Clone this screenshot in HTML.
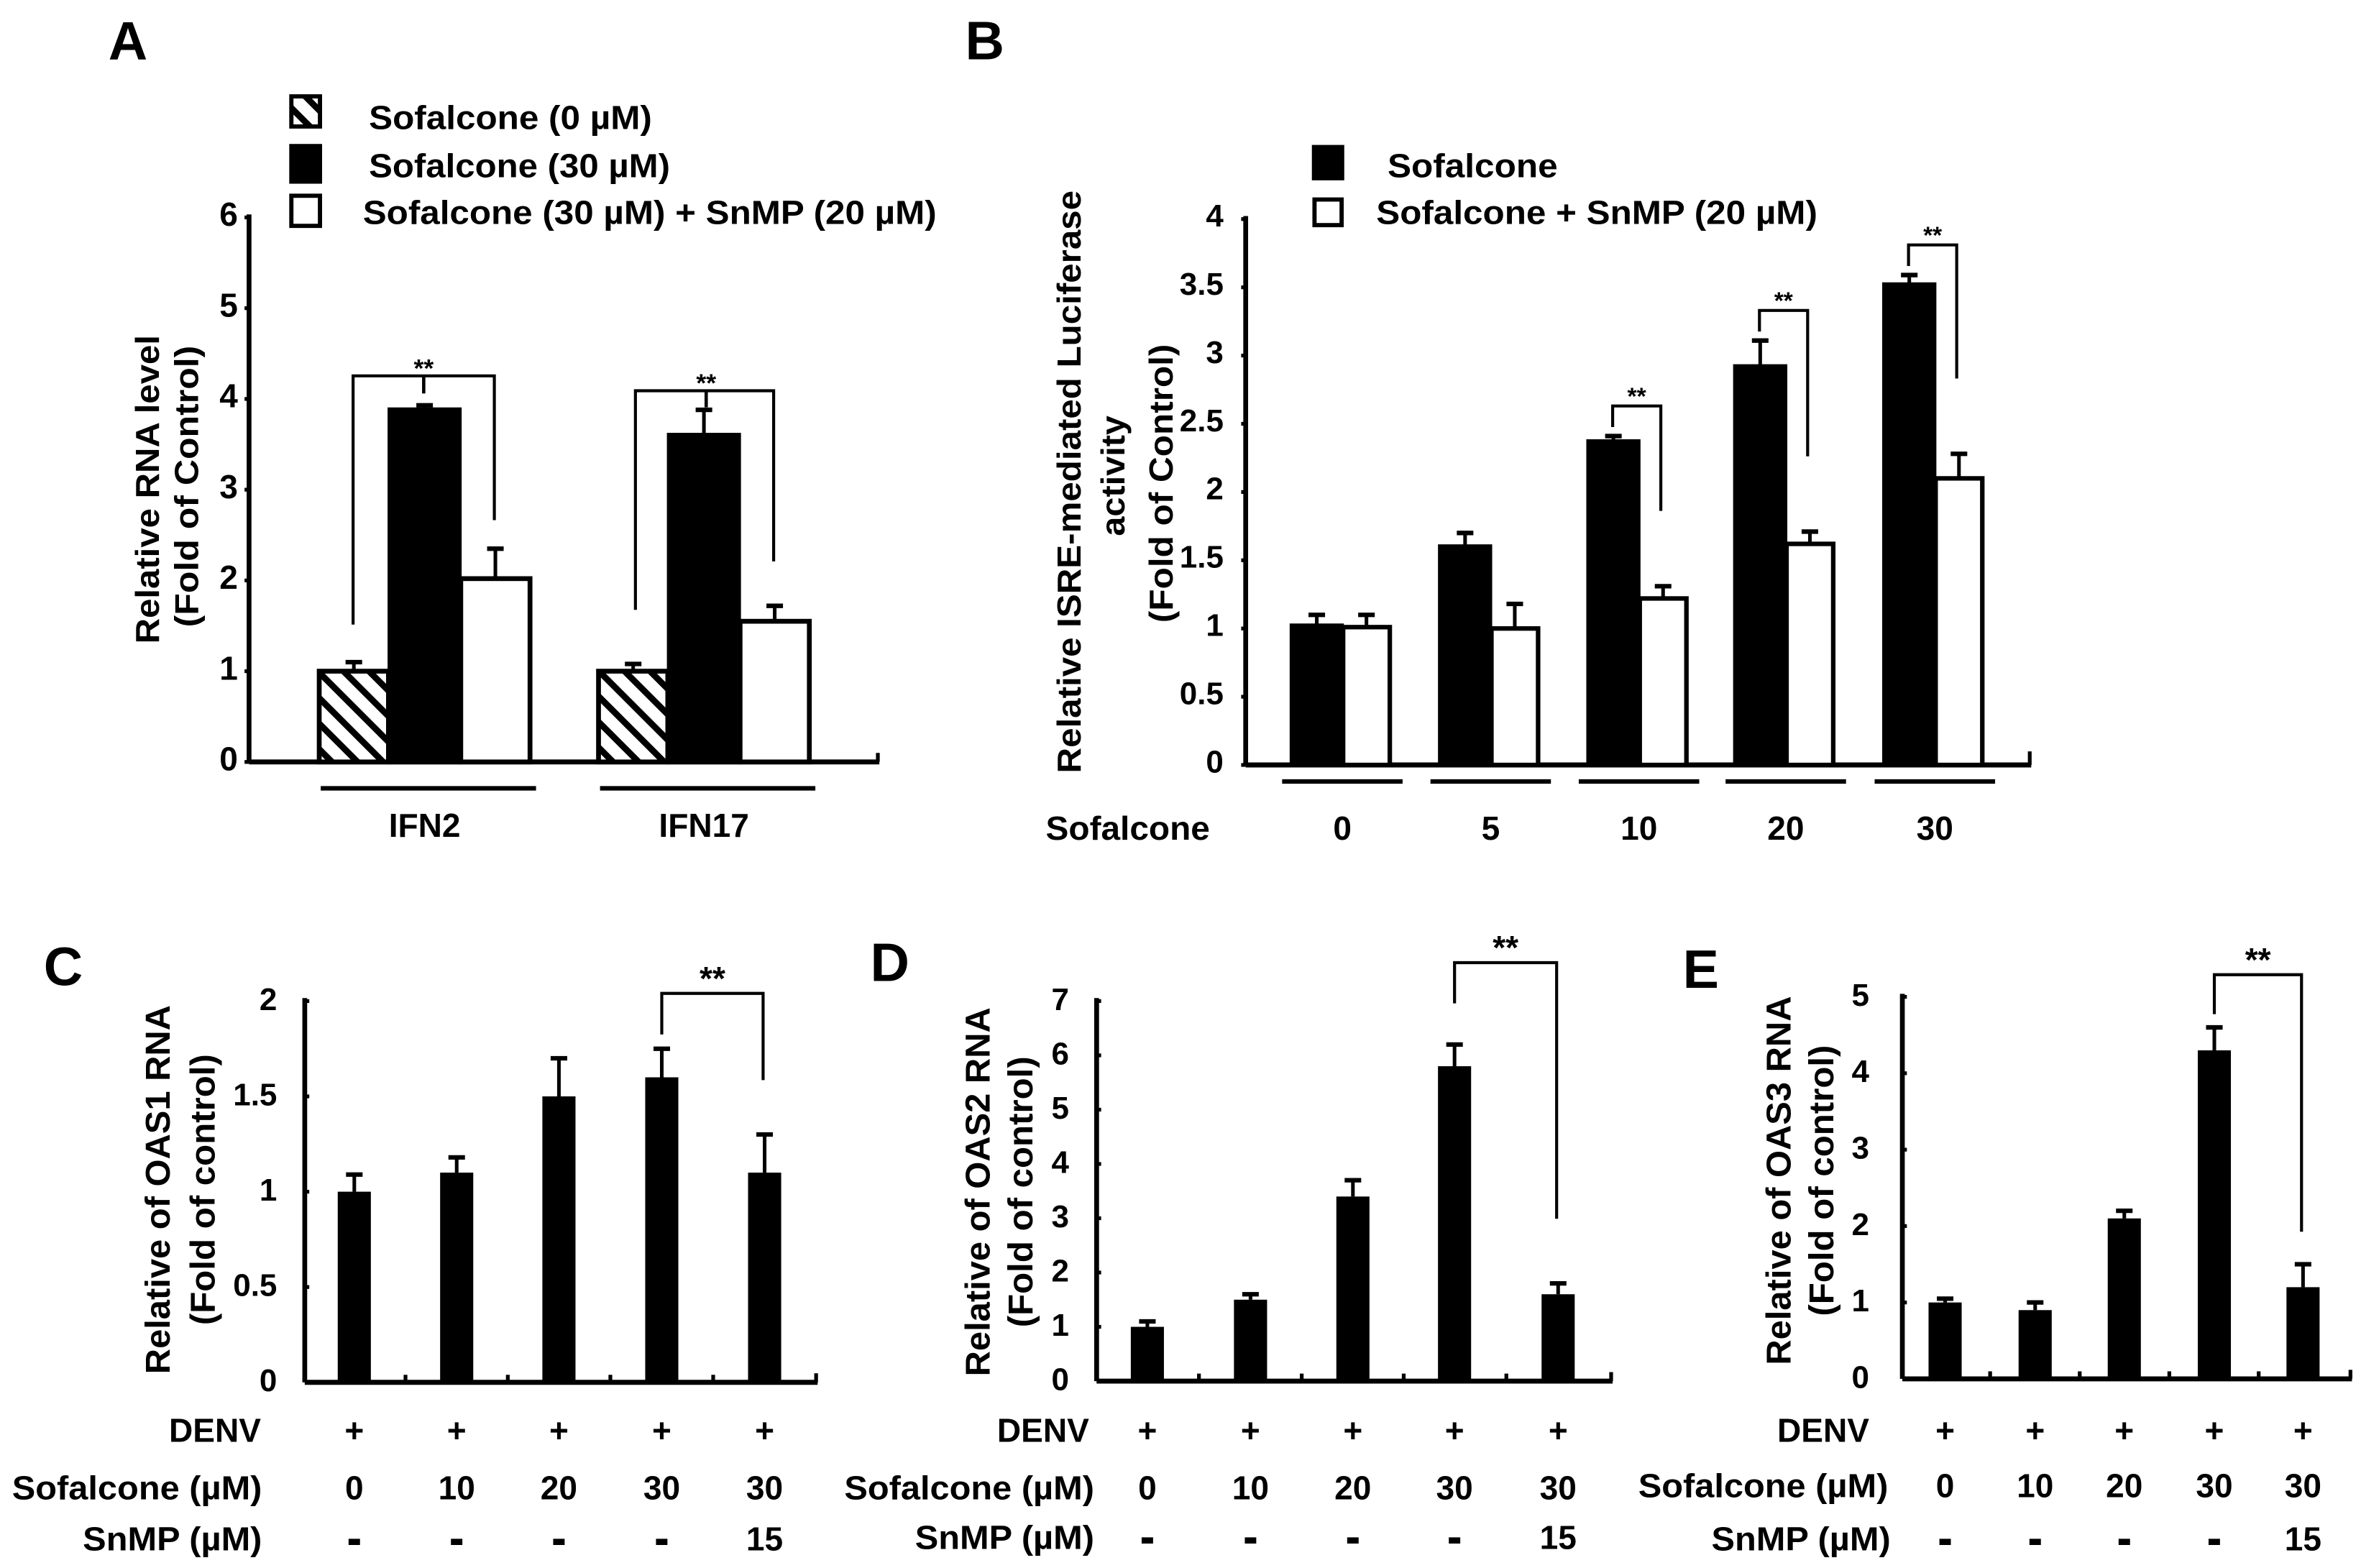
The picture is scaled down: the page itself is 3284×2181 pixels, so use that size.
<!DOCTYPE html>
<html><head><meta charset="utf-8"><style>
html,body{margin:0;padding:0;background:#fff;}
svg{display:block;}
text{font-family:"Liberation Sans",Arial,sans-serif;font-weight:bold;fill:#000;}
</style></head><body>
<svg id="fig" xmlns="http://www.w3.org/2000/svg" width="3284" height="2181" viewBox="0 0 1568 1041.3" preserveAspectRatio="none">
<defs>
<pattern id="hatch" patternUnits="userSpaceOnUse" width="12" height="12" patternTransform="rotate(-45)">
<rect width="12" height="12" fill="#fff"/><rect x="0" y="0" width="4.2" height="12" fill="#000"/>
</pattern>
</defs>
<rect x="0" y="0" width="1568" height="1041.3" fill="#fff"/>
</svg>
<script>
// ---------- Panel A data ----------
const aGroups = ["IFN2", "IFN17"];
const aSeriesNames = ["Sofalcone (0 µM)", "Sofalcone (30 µM)", "Sofalcone (30 µM) + SnMP (20 µM)"];
const aVals0 = [1.0, 1.0];
const aErr0 = [0.1, 0.08];
const aVals30 = [3.88, 3.6];
const aErr30 = [0.05, 0.28];
const aValsSn = [2.02, 1.55];
const aErrSn = [0.33, 0.17];
const aTicks = [0, 1, 2, 3, 4, 5, 6];
// ---------- Panel B data ----------
const bDoses = ["0", "5", "10", "20", "30"];
const bSof = [1.02, 1.6, 2.37, 2.92, 3.52];
const bSofErr = [0.08, 0.1, 0.04, 0.19, 0.07];
const bSn = [1.01, 1.0, 1.22, 1.62, 2.1];
const bSnErr = [0.09, 0.18, 0.09, 0.09, 0.18];
const bTicks = [0, 0.5, 1, 1.5, 2, 2.5, 3, 3.5, 4];
const bTickLabels = ["0", "0.5", "1", "1.5", "2", "2.5", "3", "3.5", "4"];
// ---------- Panels C-E data ----------
const denvRow = ["+", "+", "+", "+", "+"];
const sofRow = ["0", "10", "20", "30", "30"];
const snmpRow = ["-", "-", "-", "-", "15"];
const cVals = [1.0, 1.1, 1.5, 1.6, 1.1];
const cErr = [0.09, 0.08, 0.2, 0.15, 0.2];
const cTicks = [0, 0.5, 1, 1.5, 2];
const cTickLabels = ["0", "0.5", "1", "1.5", "2"];
const dVals = [1.0, 1.5, 3.4, 5.8, 1.6];
const dErr = [0.1, 0.1, 0.3, 0.4, 0.2];
const dTicks = [0, 1, 2, 3, 4, 5, 6, 7];
const eVals = [1.0, 0.9, 2.1, 4.3, 1.2];
const eErr = [0.05, 0.1, 0.1, 0.3, 0.3];
const eTicks = [0, 1, 2, 3, 4, 5];

const svg = document.getElementById('fig');
const NS = 'http://www.w3.org/2000/svg';
function mk(tag, attrs, parent) {
  const el = document.createElementNS(NS, tag);
  for (const k in attrs) el.setAttribute(k, attrs[k]);
  (parent || svg).appendChild(el);
  return el;
}
function txt(s, x, y, size, anchor, parent, len) {
  const t = mk('text', {x: x, y: y, 'font-size': size, 'text-anchor': anchor || 'middle', 'dominant-baseline': 'central'}, parent);
  if (len) { t.setAttribute('textLength', len); t.setAttribute('lengthAdjust', 'spacingAndGlyphs'); }
  t.textContent = s;
  return t;
}
function line(x1, y1, x2, y2, w, parent) {
  return mk('line', {x1: x1, y1: y1, x2: x2, y2: y2, stroke: '#000', 'stroke-width': w || 2.5}, parent);
}
function vtitle(s, x, yc, size, len, parent) {
  const t = mk('text', {x: 0, y: 0, 'font-size': size, 'text-anchor': 'middle', 'dominant-baseline': 'central', transform: 'translate(' + x + ',' + yc + ') rotate(-90)', textLength: len, lengthAdjust: 'spacingAndGlyphs'}, parent);
  t.textContent = s;
  return t;
}
function errbar(x, yTop, yErr, parent) {
  line(x, yTop, x, yErr, 2.4, parent);
  line(x - 5.5, yErr, x + 5.5, yErr, 3, parent);
}

// ================= Panel A =================
(function () {
  const g = mk('g', {});
  
  
  const ax = 165.4, y0 = 506, yTop = 144.4, vmax = 6;
  const yS = v => y0 - (y0 - yTop) * v / vmax;
  const lab = txt('A', 85, 27, 36, 'middle', g);
  
  
  const yax = line(ax, yTop - 2, ax, y0, 3.2, g);
  
  
  const xax = line(ax, y0, 584, y0, 3.3, g);
  
  
  line(583, y0, 583, y0 - 6, 2.5, g);
  aTicks.forEach(v => {
    line(ax - 3, yS(v), ax, yS(v), 2.5, g);
    const t = txt(String(v), 158, yS(v) - 2, 22, 'end', g);
    
    
  });
  const t1 = vtitle('Relative RNA level', 98, 325, 22, 205, g);
  
  
  const t2 = vtitle('(Fold of Control)', 124, 323, 22, 187, g);
  
  
  const groupLeft = [212, 397.5];
  const bw = 47;
  const series = [[aVals0, aErr0, 'url(#hatch)'], [aVals30, aErr30, '#000'], [aValsSn, aErrSn, '#fff']];
  aGroups.forEach((name, gi) => {
    series.forEach((s, si) => {
      const x = groupLeft[gi] + si * bw;
      const v = s[0][gi];
      const r = mk('rect', {x: x, y: yS(v), width: bw - 1, height: y0 - yS(v), fill: s[2], stroke: '#000', 'stroke-width': 3.2}, g);
      
      
      errbar(x + bw / 2 - 0.5, yS(v), yS(v + s[1][gi]), g);
    });
    const cx = groupLeft[gi] + 1.5 * bw - 0.5;
    const u = line(groupLeft[gi] + 1, 523.5, groupLeft[gi] + 144, 523.5, 3, g);
    
    
    const gl = txt(name, cx, 548, 22, 'middle', g);
    
    
  });
  const br = [[234.5, 414.8, 249.6, 328.3, 345.4, 281.4, 261.3], [422, 405, 259.5, 513.8, 372.8, 469, 270.5]];
  br.forEach((b, i) => {
    const p = mk('polyline', {points: b[0] + ',' + b[1] + ' ' + b[0] + ',' + b[2] + ' ' + b[3] + ',' + b[2] + ' ' + b[3] + ',' + b[4], fill: 'none', stroke: '#000', 'stroke-width': 2}, g);
    
    
    line(b[5], b[2], b[5], b[6], 2.2, g);
    const s = txt('**', b[5], b[2] - 5, 17, 'middle', g);
    
    
  });
  const lg = [[64, 84, 'url(#hatch)', 245, 78, 188], [97, 120.6, '#000', 245, 110, 200], [130, 150, '#fff', 241, 141, 381]];
  lg.forEach((l, i) => {
    const r = mk('rect', {x: 193.5, y: l[0], width: 19, height: l[1] - l[0], fill: l[2], stroke: '#000', 'stroke-width': 2.8}, g);
    
    
    const t = txt(aSeriesNames[i], l[3], l[4], 22, 'start', g, l[5]);
    
    
  });
})();

// ================= Panel B =================
(function () {
  const g = mk('g', {});
  
  
  const ax = 827.3, y0 = 508, yTop = 145.5, vmax = 4;
  const yS = v => y0 - (y0 - yTop) * v / vmax;
  const lab = txt('B', 654, 27, 36, 'middle', g);
  
  
  const yax = line(ax, yTop - 2, ax, y0, 3.2, g);
  
  
  const xax = line(ax, y0, 1349, y0, 3.3, g);
  
  
  line(1348, y0, 1348, y0 - 9, 2.5, g);
  bTicks.forEach((v, i) => {
    line(ax - 3, yS(v), ax, yS(v), 2.5, g);
    const t = txt(bTickLabels[i], 812.6, yS(v) - 2, 21, 'end', g);
    
    
  });
  const t1 = vtitle('Relative ISRE-mediated Luciferase', 710, 320, 22, 387, g);
  
  
  const t2 = vtitle('activity', 739, 316, 22, 80, g);
  
  
  const t3 = vtitle('(Fold of Control)', 771, 321, 22, 185, g);
  
  
  const centers = [891.5, 990, 1088.5, 1186, 1285];
  const bw = 33;
  const xlab = txt('Sofalcone', 749, 550, 22, 'middle', g, 109);
  
  
  bDoses.forEach((d, i) => {
    const c = centers[i];
    const r1 = mk('rect', {x: c - bw - 0.5, y: yS(bSof[i]), width: bw, height: y0 - yS(bSof[i]), fill: '#000', stroke: '#000', 'stroke-width': 3}, g);
    
    
    errbar(c - bw / 2 - 0.5, yS(bSof[i]), yS(bSof[i] + bSofErr[i]), g);
    const r2 = mk('rect', {x: c + 0.5, y: yS(bSn[i]), width: bw - 2, height: y0 - yS(bSn[i]), fill: '#fff', stroke: '#000', 'stroke-width': 3}, g);
    
    
    errbar(c + bw / 2 - 0.5, yS(bSn[i]), yS(bSn[i] + bSnErr[i]), g);
    const u = line(c - 40, 519, c + 40, 519, 3, g);
    
    
    const t = txt(d, c, 550, 22, 'middle', g);
    
    
  });
  [2, 3, 4].forEach(i => {
    const c = centers[i];
    const xL = c - bw / 2 - 1, xR = c + bw / 2 - 2;
    const top = yS(bSof[i] + bSofErr[i]) - 20;
    const bot = yS(bSof[i] + bSofErr[i]) - 6;
    const rb = yS(bSn[i] + bSnErr[i]) - 50;
    const p = mk('polyline', {points: xL + ',' + bot + ' ' + xL + ',' + top + ' ' + xR + ',' + top + ' ' + xR + ',' + rb, fill: 'none', stroke: '#000', 'stroke-width': 2}, g);
    
    
    const s = txt('**', (xL + xR) / 2, top - 6, 16, 'middle', g);
    
    
  });
  const l1 = mk('rect', {x: 872.5, y: 97.5, width: 19, height: 21, fill: '#000', stroke: '#000', 'stroke-width': 2.5}, g);
  
  
  const l2 = mk('rect', {x: 873, y: 132.5, width: 18, height: 17, fill: '#fff', stroke: '#000', 'stroke-width': 2.8}, g);
  
  
  const lt1 = txt('Sofalcone', 921.5, 110, 22, 'start', g, 113);
  
  
  const lt2 = txt('Sofalcone + SnMP (20 µM)', 914, 141, 22, 'start', g, 293);
  
  
})();

// ================= Panels C, D, E =================
function smallPanel(cfg) {
  const g = mk('g', {});
  
  
  const yS = v => cfg.y0 - (cfg.y0 - cfg.yTop) * v / cfg.vmax;
  const lab = txt(cfg.letter, cfg.lx, cfg.ly, 36, 'middle', g);
  
  
  const yax = line(cfg.ax, cfg.yTop - 2, cfg.ax, cfg.y0, 3.2, g);
  
  
  const xax = line(cfg.ax, cfg.y0, cfg.xEnd, cfg.y0, 3.3, g);
  
  
  line(cfg.xEnd - 1, cfg.y0, cfg.xEnd - 1, cfg.y0 - 6, 2.5, g);
  cfg.ticks.forEach((v, i) => {
    line(cfg.ax, yS(v), cfg.ax + 3, yS(v), 2.5, g);
    const t = txt(cfg.tickLabels ? cfg.tickLabels[i] : String(v), cfg.tlx, yS(v) - 1, 21, 'end', g);
    
    
  });
  const t1 = vtitle(cfg.title, cfg.t1x, cfg.tyc, 23, 245, g);
  
  
  const t2 = vtitle('(Fold of control)', cfg.t2x, cfg.tyc2, 23, 180, g);
  
  
  const bw = 22;
  cfg.vals.forEach((v, i) => {
    const c = cfg.centers[i];
    const r = mk('rect', {x: c - bw / 2, y: yS(v), width: bw, height: cfg.y0 - yS(v), fill: '#000'}, g);
    
    
    errbar(c, yS(v), yS(v + cfg.err[i]), g);
    if (i < cfg.vals.length - 1) {
      const mx = (c + cfg.centers[i + 1]) / 2;
      line(mx, cfg.y0, mx, cfg.y0 - 5, 2.5, g);
    }
    const a = txt(denvRow[i], c, cfg.rows[0], 22, 'middle', g);
    
    
    const b = txt(sofRow[i], c, cfg.rows[1], 22, 'middle', g);
    
    
    const d = txt(snmpRow[i], c, cfg.rows[2], 22, 'middle', g);
    if (snmpRow[i] === '-') { d.setAttribute('font-size', 26); d.setAttribute('stroke', '#000'); d.setAttribute('stroke-width', 1); }
    
    
  });
  const r1 = txt('DENV', cfg.rl[0], cfg.rows[0], 22, 'end', g);
  
  
  const r2 = txt('Sofalcone (µM)', cfg.rl[1], cfg.rows[1], 22, 'end', g, 166);
  
  
  const r3 = txt('SnMP (µM)', cfg.rl[2], cfg.rows[2], 22, 'end', g, 119);
  
  
  const xL = cfg.centers[3], xR = cfg.centers[4] - 1;
  const p = mk('polyline', {points: xL + ',' + cfg.br[1] + ' ' + xL + ',' + cfg.br[0] + ' ' + xR + ',' + cfg.br[0] + ' ' + xR + ',' + cfg.br[2], fill: 'none', stroke: '#000', 'stroke-width': 2}, g);
  
  
  const s = txt('**', (xL + xR) / 2, cfg.br[0] - 10, 22, 'middle', g);
  
  
}
smallPanel({id: 'c', letter: 'C', lx: 42, ly: 642, ax: 202.4, xEnd: 543, y0: 918, yTop: 664.8, vmax: 2,
  ticks: cTicks, tickLabels: cTickLabels, tlx: 184, title: 'Relative of OAS1 RNA', t1x: 105, t2x: 135, tyc: 790, tyc2: 790,
  vals: cVals, err: cErr, centers: [235.3, 303.3, 371.2, 439.5, 507.8], rows: [949.8, 988, 1022], rl: [173.3, 174, 174],
  br: [659.7, 687, 717.3]});
smallPanel({id: 'd', letter: 'D', lx: 591, ly: 639, ax: 728.3, xEnd: 1071, y0: 917.2, yTop: 664.8, vmax: 7,
  ticks: dTicks, tlx: 710, title: 'Relative of OAS2 RNA', t1x: 649.6, t2x: 678, tyc: 791.5, tyc2: 791.5,
  vals: dVals, err: dErr, centers: [762, 830.5, 898.5, 966, 1034.8], rows: [949.8, 988, 1021], rl: [723.3, 726.7, 726.7],
  br: [639.3, 666.3, 809.4]});
smallPanel({id: 'e', letter: 'E', lx: 1129.6, ly: 643.6, ax: 1263.4, xEnd: 1562, y0: 915.7, yTop: 662, vmax: 5,
  ticks: eTicks, tlx: 1241.4, title: 'Relative of OAS3 RNA', t1x: 1181.6, t2x: 1210, tyc: 784, tyc2: 784,
  vals: eVals, err: eErr, centers: [1291.8, 1351.6, 1410.8, 1470.6, 1529.5], rows: [949.8, 986.6, 1022], rl: [1241.4, 1254, 1255.6],
  br: [647.3, 673.5, 818]});
</script>
</body></html>
